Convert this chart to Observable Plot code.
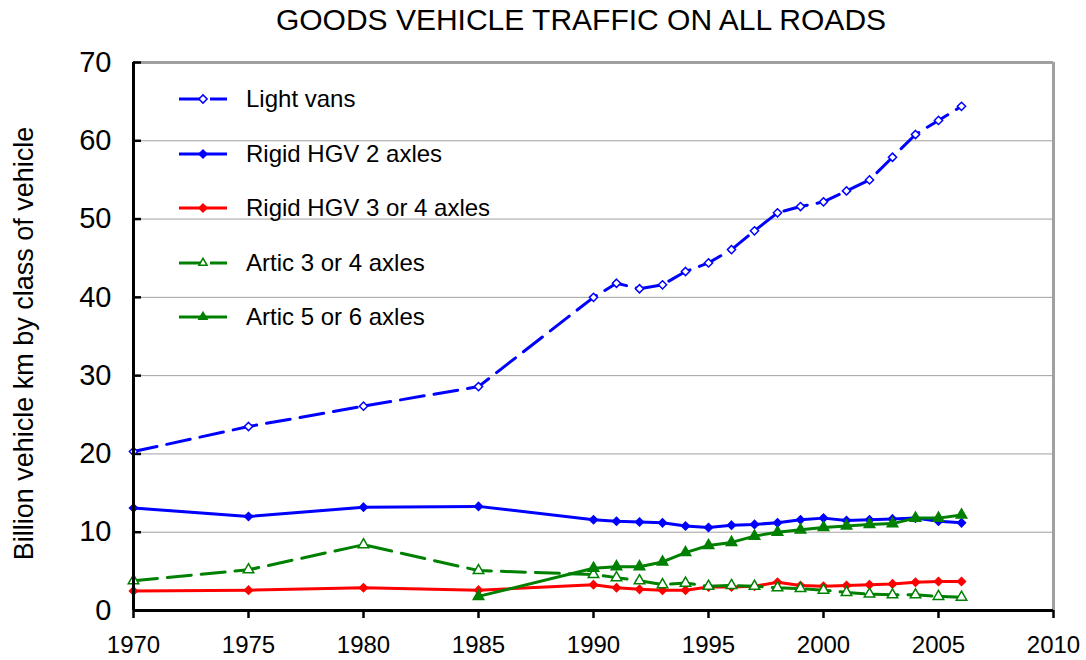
<!DOCTYPE html>
<html><head><meta charset="utf-8">
<script src="https://cdn.jsdelivr.net/npm/d3@7"></script>
<script src="https://cdn.jsdelivr.net/npm/@observablehq/plot@0.6"></script>
<style>
body{margin:0;background:#fff;font-family:"Liberation Sans",Arial,sans-serif;color:#000}
#wrap{position:relative;width:1086px;height:660px;overflow:hidden;background:#fff}
#title{position:absolute;left:0;top:0;width:1162px;height:40px;line-height:40px;font-size:30px;text-align:center;white-space:nowrap}
#chart{position:absolute;left:0;top:40px}
.lrow{position:absolute;height:28px;left:0;width:400px}
.lrow svg{position:absolute;left:174px;top:0}
.lrow span{position:absolute;left:246px;top:0;line-height:28px;font-size:24px;white-space:nowrap}
</style></head>
<body>
<div id="wrap">
  <div id="title">GOODS VEHICLE TRAFFIC ON ALL ROADS</div>
  <div id="chart"></div>
  <div id="legend"></div>
</div>
<script>
// ---- data ----
const years = [1970, 1975, 1980, 1985, 1990, 1991, 1992, 1993, 1994, 1995, 1996, 1997, 1998, 1999, 2000, 2001, 2002, 2003, 2004, 2005, 2006];
const seriesNames = ["Light vans", "Rigid HGV 2 axles", "Rigid HGV 3 or 4 axles", "Artic 3 or 4 axles", "Artic 5 or 6 axles"];
const lightVans = [20.3, 23.5, 26.1, 28.6, 40.0, 41.8, 41.1, 41.6, 43.3, 44.4, 46.1, 48.5, 50.8, 51.6, 52.2, 53.6, 55.0, 57.9, 60.8, 62.6, 64.4];
const rigid2 = [13.1, 12.0, 13.2, 13.3, 11.6, 11.4, 11.3, 11.2, 10.8, 10.6, 10.9, 11.0, 11.2, 11.6, 11.8, 11.5, 11.6, 11.7, 11.8, 11.4, 11.2];
const rigid34 = [2.5, 2.6, 2.9, 2.6, 3.3, 2.9, 2.7, 2.6, 2.6, 3.0, 3.0, 3.1, 3.6, 3.2, 3.1, 3.2, 3.3, 3.4, 3.6, 3.7, 3.7];
const artic34 = [3.8, 5.2, 8.4, 5.1, 4.6, 4.2, 3.8, 3.3, 3.5, 3.1, 3.2, 3.1, 2.9, 2.8, 2.6, 2.3, 2.1, 2.0, 2.0, 1.8, 1.7];
const artic56 = [null, null, null, 1.8, 5.4, 5.6, 5.6, 6.2, 7.4, 8.3, 8.7, 9.5, 10.0, 10.3, 10.6, 10.8, 11.0, 11.1, 11.8, 11.8, 12.2];
const seriesValues = [lightVans, rigid2, rigid34, artic34, artic56];
const xTicks = [1970, 1975, 1980, 1985, 1990, 1995, 2000, 2005, 2010];
const yTicks = [0, 10, 20, 30, 40, 50, 60, 70];
const yLabel = "Billion vehicle km by class of vehicle";

// ---- styles ----
const BLUE = "#0000ff", RED = "#ff0000", GREEN = "#008000";
const styles = [
  {color: BLUE, dash: "24,10", symbol: "diamond2", d3sym: d3.symbolDiamond2, fill: "#ffffff", r: 3.7},
  {color: BLUE, dash: null, symbol: "diamond2", d3sym: d3.symbolDiamond2, fill: BLUE, r: 3.6},
  {color: RED, dash: null, symbol: "diamond2", d3sym: d3.symbolDiamond2, fill: RED, r: 3.6},
  {color: GREEN, dash: "24,10", symbol: "triangle", d3sym: d3.symbolTriangle2, fill: "#ffffff", r: 3.9},
  {color: GREEN, dash: null, symbol: "triangle", d3sym: d3.symbolTriangle2, fill: GREEN, r: 3.9}
];

const rows = seriesNames.flatMap((name, i) =>
  years.map((year, j) => ({year, series: name, value: seriesValues[i][j]})).filter(d => d.value != null));

const seriesMarks = seriesNames.flatMap((name, i) => {
  const s = styles[i];
  const data = rows.filter(d => d.series === name);
  return [
    Plot.line(data, {x: "year", y: "value", stroke: s.color, strokeWidth: 3, strokeDasharray: s.dash, strokeLinejoin: "round"}),
    Plot.dot(data, {x: "year", y: "value", symbol: s.symbol, r: s.r, fill: s.fill, stroke: s.color, strokeWidth: 1.5})
  ];
});

const chart = Plot.plot({
  width: 1086,
  height: 620,
  marginTop: 22,
  marginBottom: 50,
  marginLeft: 133,
  marginRight: 33,
  style: {fontFamily: '"Liberation Sans", Arial, sans-serif', color: "#000", background: "transparent"},
  x: {domain: [1970, 2010]},
  y: {domain: [0, 70]},
  marks: [
    Plot.gridY(yTicks.filter(d => d > 0), {stroke: "#a0a0a0", strokeOpacity: 1, strokeWidth: 1}),
    Plot.ruleY([70], {stroke: "#a0a0a0", strokeWidth: 3}),
    Plot.ruleX([2010], {stroke: "#a0a0a0", strokeWidth: 3}),
    Plot.axisX({ticks: xTicks, tickSize: 8, tickPadding: 17, strokeWidth: 2.5, fontSize: 24, tickFormat: d3.format("d"), label: null}),
    Plot.axisY({ticks: yTicks, tickSize: 8, dx: 8, strokeWidth: 2.5, tickFormat: () => "", label: null}),
    Plot.axisY({ticks: yTicks, tickSize: 0, tickPadding: 22, fontSize: 29, label: null}),
    Plot.text([yLabel], {frameAnchor: "left", textAnchor: "middle", dx: -109, dy: 7, rotate: -90, fontSize: 27, fill: "#000"}),
    ...seriesMarks,
    Plot.ruleY([0], {stroke: "#000", strokeWidth: 3}),
    Plot.ruleX([1970], {stroke: "#000", strokeWidth: 3})
  ]
});
document.getElementById("chart").appendChild(chart);

// ---- legend (HTML overlay) ----
const legend = d3.select("#legend");
seriesNames.forEach((name, i) => {
  const s = styles[i];
  const row = legend.append("div").attr("class", "lrow").style("top", (85 + i * 54.5) + "px");
  const svg = row.append("svg").attr("width", 56).attr("height", 28);
  svg.append("line").attr("x1", 5).attr("x2", 53).attr("y1", 14).attr("y2", 14)
    .attr("stroke", s.color).attr("stroke-width", 3)
    .attr("stroke-dasharray", s.dash ? "22,9" : null);
  svg.append("path").attr("transform", "translate(29,14)")
    .attr("d", d3.symbol(s.d3sym, Math.PI * s.r * s.r)())
    .attr("fill", s.fill).attr("stroke", s.color).attr("stroke-width", 1.5);
  row.append("span").text(name);
});
</script>
</body></html>
